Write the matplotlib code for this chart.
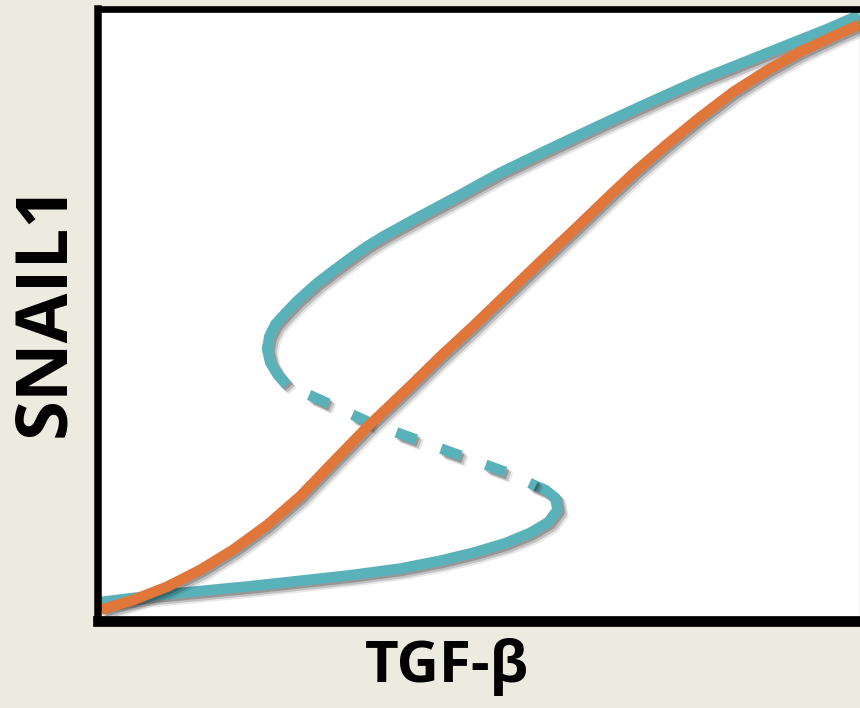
import matplotlib
matplotlib.use('Agg')
import matplotlib.pyplot as plt
import matplotlib.patheffects as pe
import numpy as np

# SNAIL1 response to TGF-beta: bistable (teal) vs graded (orange)
tgf_low = [0.0, 0.065, 0.131, 0.197, 0.263, 0.328, 0.394, 0.447, 0.493, 0.533, 0.566,
           0.590, 0.602, 0.599, 0.586, 0.573]
snail_low = [0.025, 0.035, 0.043, 0.051, 0.060, 0.069, 0.080, 0.093, 0.107, 0.122, 0.139,
             0.157, 0.177, 0.197, 0.210, 0.217]

tgf_unstable = [0.245, 0.280, 0.355, 0.425, 0.480, 0.537, 0.573]
snail_unstable = [0.383, 0.364, 0.321, 0.289, 0.264, 0.238, 0.217]

tgf_high = [0.245, 0.232, 0.223, 0.219, 0.222, 0.230, 0.243, 0.260, 0.285, 0.307, 0.3285,
            0.350, 0.372, 0.417, 0.471, 0.526, 0.592, 0.658, 0.724, 0.790, 0.856, 0.922,
            0.962, 1.0]
snail_high = [0.383, 0.402, 0.421, 0.443, 0.464, 0.484, 0.502, 0.524, 0.552, 0.573, 0.593,
              0.612, 0.629, 0.660, 0.696, 0.734, 0.774, 0.813, 0.851, 0.888, 0.921, 0.954,
              0.974, 0.995]

tgf_graded = [0.0, 0.042, 0.087, 0.131, 0.174, 0.219, 0.263, 0.306, 0.351, 0.408, 0.447,
              0.491, 0.540, 0.579, 0.628, 0.672, 0.707, 0.747, 0.790, 0.834, 0.879, 0.922,
              0.966, 1.0]
snail_graded = [0.012, 0.028, 0.050, 0.078, 0.111, 0.152, 0.200, 0.256, 0.314, 0.382, 0.430,
                0.481, 0.540, 0.587, 0.645, 0.698, 0.739, 0.782, 0.826, 0.868, 0.904, 0.934,
                0.960, 0.979]

teal = '#59b2b9'
orange = '#e1763a'
bg = '#edeae0'

# soft drop shadow: a few offset gray copies under each line
shadow = [pe.SimpleLineShadow(offset=(4.2, -4.2), shadow_color='k', alpha=0.09),
          pe.SimpleLineShadow(offset=(3.0, -3.0), shadow_color='k', alpha=0.16),
          pe.SimpleLineShadow(offset=(1.6, -1.6), shadow_color='k', alpha=0.22),
          pe.Normal()]

fig = plt.figure(figsize=(8.6, 7.08), dpi=100, facecolor=bg)
ax = fig.add_axes([0.114, 0.1222, 0.886, 0.8647])
ax.set_facecolor('white')

lw = 7.6
ax.plot(tgf_low, snail_low, color=teal, lw=lw, solid_capstyle='butt',
        solid_joinstyle='round', path_effects=shadow)
ax.plot(tgf_high, snail_high, color=teal, lw=lw, solid_capstyle='butt',
        solid_joinstyle='round', path_effects=shadow)
ax.plot(tgf_unstable, snail_unstable, color=teal, lw=lw, dash_capstyle='butt',
        linestyle=(2.2, (2.0, 2.5)), path_effects=shadow)
ax.plot(tgf_graded, snail_graded, color=orange, lw=lw, solid_capstyle='butt',
        solid_joinstyle='round', path_effects=shadow)

ax.set_xlim(-0.004, 1.001)
ax.set_ylim(-0.0074, 1.0045)
ax.set_xticks([])
ax.set_yticks([])

ax.spines['left'].set_linewidth(5.4)
ax.spines['top'].set_linewidth(4.8)
ax.spines['bottom'].set_linewidth(7.7)
ax.spines['right'].set_linewidth(0.8)
for s in ax.spines.values():
    s.set_color('black')
    s.set_capstyle('projecting')

fig.text(447 / 860, 26 / 708, 'TGF-β', fontsize=42, fontweight='bold',
         family='Open Sans', ha='center', va='baseline')
fig.text(64 / 860, (708 - 310) / 708, 'SNAIL1', fontsize=52, fontweight='bold',
         family='Open Sans', ha='center', va='baseline', rotation=90,
         rotation_mode='anchor')

fig.savefig('out.png', dpi=100, facecolor=bg)
